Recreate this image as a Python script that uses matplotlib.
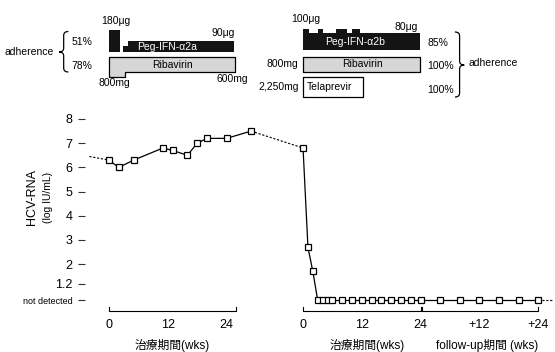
import numpy as np
import matplotlib
matplotlib.use("Agg")
import matplotlib.pyplot as plt
from matplotlib.path import Path
from matplotlib.patches import PathPatch

plt.rcParams['font.family'] = ['Liberation Sans', 'Noto Sans CJK JP', 'DejaVu Sans']

ND = 0.5  # "not detected" position on the y scale

# first course (Peg-IFN-a2a + ribavirin), weeks from start
t1_weeks = [0, 2, 5, 11, 13, 16, 18, 20, 24, 29]
t1_values = [6.3, 6.0, 6.3, 6.8, 6.7, 6.5, 7.0, 7.2, 7.2, 7.5]
t1_lead = (-4, 6.45)

# second course (Peg-IFN-a2b + ribavirin + telaprevir)
t2_weeks = [0, 1, 2, 3, 4, 5, 6, 8, 10, 12, 14, 16, 18, 20, 22, 24]
t2_values = [6.8, 2.7, 1.7] + [ND] * 13
fu_weeks = [4, 8, 12, 16, 20, 24]
fu_values = [ND] * 6
fu_tail = 27

t2_offset = 39.6  # where course 2 starts on the shared week axis

y_ticks = [8, 7, 6, 5, 4, 3, 2, 1.2, ND]
y_labels = ['8', '7', '6', '5', '4', '3', '2', '1.2', 'not detected']

# dosing schedules: (start week, end week, dose)
peg_a2a = [(0, 2.2, 180), (2.9, 3.9, 45), (3.9, 25.6, 90)]
riba_1 = [(0, 3.2, 800), (3.2, 25.8, 600)]
peg_a2b = [(0, 1.2, 100), (1.2, 3.1, 80), (3.1, 4.0, 100), (4.0, 6.8, 80),
           (6.8, 9.0, 100), (9.0, 10.0, 80), (10.0, 11.7, 100), (11.7, 23.8, 80)]
riba_2 = [(0, 23.8, 800)]
telaprevir = [(0, 12.2, 2250)]

W, H = 555, 352
fig = plt.figure(figsize=(W / 100, H / 100), dpi=100)

# pixel layout: x_pix = 109 + 4.9 * week, y_pix = 119 + 24.2 * (8 - v)
px_per_wk = 4.9
x0_pix = 109
left_pix, right_pix = 85, 555
xlim = ((left_pix - x0_pix) / px_per_wk, (right_pix - x0_pix) / px_per_wk)

top_pix, bot_pix = 100, 352
ylim = (8 - (bot_pix - 119) / 24.2, 8 - (top_pix - 119) / 24.2)

ax = fig.add_axes([left_pix / W, 1 - bot_pix / H, (right_pix - left_pix) / W, (bot_pix - top_pix) / H])
ax.set_xlim(*xlim)
ax.set_ylim(*ylim)
for s in ax.spines.values():
    s.set_visible(False)
ax.set_xticks([])
ax.set_yticks(y_ticks)
ax.set_yticklabels(y_labels)
ax.tick_params(axis='y', direction='out', length=5, width=0.8, color='#333333', pad=4, labelsize=9)
for lab in ax.get_yticklabels():
    if lab.get_text() == 'not detected':
        lab.set_fontsize(6.5)

mk = dict(marker='s', markersize=4.5, markerfacecolor='white', markeredgecolor='black',
          markeredgewidth=0.9, color='black', lw=0.9)
dash = dict(color='black', lw=0.8, linestyle=(0, (2, 1.5)))

x1 = np.array(t1_weeks, dtype=float)
x2 = np.array(t2_weeks, dtype=float) + t2_offset
xf = np.array(fu_weeks, dtype=float) + t2_offset + t2_weeks[-1]

ax.plot([t1_lead[0], x1[0]], [t1_lead[1], t1_values[0]], **dash)
ax.plot([x1[-1], x2[0]], [t1_values[-1], t2_values[0]], **dash)
ax.plot([xf[-1], t2_offset + t2_weeks[-1] + fu_tail], [fu_values[-1], fu_values[-1]], **dash)
ax.plot(x1, t1_values, **mk, zorder=3)
ax.plot(np.concatenate([x2, xf]), t2_values + fu_values, **mk, zorder=3)

# brackets under the curves
yb = 0.066
cap = 0.17


def bracket(a, b):
    ax.plot([a, a, b, b], [yb + cap, yb, yb, yb + cap], color='black', lw=0.8)


bracket(0, 26)
bracket(t2_offset, t2_offset + 24)
bracket(t2_offset + 24.3, t2_offset + 48)

ytl = -0.52
for w, lab in [(0, '0'), (12, '12'), (24, '24')]:
    ax.text(w, ytl, lab, ha='center', va='center', fontsize=9)
for w, lab in [(0, '0'), (12, '12'), (24, '24'), (36, '+12'), (48, '+24')]:
    ax.text(t2_offset + w, ytl, lab, ha='center', va='center', fontsize=9)

yxl = -1.35
ax.text(13, yxl, '治療期間(wks)', ha='center', va='center', fontsize=8.5)
ax.text(t2_offset + 13, yxl, '治療期間(wks)', ha='center', va='center', fontsize=8.5)
ax.text(t2_offset + 37.5, yxl, 'follow-up期間 (wks)', ha='center', va='center', fontsize=8.5)

fig.text(32 / W, 1 - 197 / H, 'HCV-RNA', rotation=90, ha='center', va='center', fontsize=9)
fig.text(48 / W, 1 - 197 / H, '(log IU/mL)', rotation=90, ha='center', va='center', fontsize=7.5)

# regimen schematic, y in pixels from the top
axt = fig.add_axes([left_pix / W, 1 - 100 / H, (right_pix - left_pix) / W, 100 / H])
axt.set_xlim(*xlim)
axt.set_ylim(100, 0)
axt.axis('off')

dark = '#141414'
gray = '#d6d6d6'


def peg_bars(segs, offset, base, scale):
    for a, b, d in segs:
        h = d * scale
        axt.bar(a + offset, h, width=b - a, bottom=base - h, align='edge', color=dark, lw=0)


def riba_box(segs, offset, top, scale, color):
    xs = [a + offset for a, b, d in segs] + [segs[-1][1] + offset]
    ys = [top + d * scale for a, b, d in segs] + [top + segs[-1][2] * scale]
    axt.fill_between(xs, top, ys, step='post', facecolor=color, edgecolor='black', lw=0.9)


peg_bars(peg_a2a, 0, 52, 0.125)
riba_box(riba_1, 0, 57.3, 0.024, gray)
peg_bars(peg_a2b, t2_offset, 49.5, 0.205)
riba_box(riba_2, t2_offset, 56.7, 0.01875, gray)
riba_box(telaprevir, t2_offset, 77, 0.0087, 'white')

fs = 7.5
axt.text(1.4, 21, '180μg', ha='center', va='center', fontsize=fs)
axt.text(23.3, 33, '90μg', ha='center', va='center', fontsize=fs)
axt.text(11.8, 46.5, 'Peg-IFN-α2a', ha='center', va='center', fontsize=fs, color='white')
axt.text(13, 65, 'Ribavirin', ha='center', va='center', fontsize=fs)
axt.text(1.0, 83, '800mg', ha='center', va='center', fontsize=fs)
axt.text(25.1, 79, '600mg', ha='center', va='center', fontsize=fs)
axt.text(-7.6, 42, '51%', ha='left', va='center', fontsize=fs)
axt.text(-7.6, 66, '78%', ha='left', va='center', fontsize=fs)
axt.text(-11.2, 52, 'adherence', ha='right', va='center', fontsize=fs)

axt.text(t2_offset + 0.6, 18.5, '100μg', ha='center', va='center', fontsize=fs)
axt.text(t2_offset + 21, 27, '80μg', ha='center', va='center', fontsize=fs)
axt.text(t2_offset + 10.6, 42, 'Peg-IFN-α2b', ha='center', va='center', fontsize=fs, color='white')
axt.text(t2_offset - 0.9, 64, '800mg', ha='right', va='center', fontsize=fs)
axt.text(t2_offset + 12.2, 64, 'Ribavirin', ha='center', va='center', fontsize=fs)
axt.text(t2_offset - 0.9, 87, '2,250mg', ha='right', va='center', fontsize=fs)
axt.text(t2_offset + 0.8, 87, 'Telaprevir', ha='left', va='center', fontsize=fs)
axt.text(t2_offset + 25.3, 43, '85%', ha='left', va='center', fontsize=fs)
axt.text(t2_offset + 25.3, 66, '100%', ha='left', va='center', fontsize=fs)
axt.text(t2_offset + 25.3, 90, '100%', ha='left', va='center', fontsize=fs)
axt.text(t2_offset + 33.8, 63, 'adherence', ha='left', va='center', fontsize=fs)


def brace(x, y0, y1, w, ym=None, q=4):
    if ym is None:
        ym = (y0 + y1) / 2
    m = x + w / 2
    verts = [(x, y0), (m, y0), (m, y0 + q), (m, ym - q), (m, ym), (x + w, ym),
             (m, ym), (m, ym + q), (m, y1 - q), (m, y1), (x, y1)]
    codes = [Path.MOVETO, Path.CURVE3, Path.CURVE3, Path.LINETO, Path.CURVE3, Path.CURVE3,
             Path.CURVE3, Path.CURVE3, Path.LINETO, Path.CURVE3, Path.CURVE3]
    axt.add_patch(PathPatch(Path(verts, codes), fill=False, lw=0.9, color='black', clip_on=False))


brace(-8.3, 31.5, 72, -1.9, ym=52)
brace(t2_offset + 31.0, 32, 97, 1.9, ym=65)

fig.savefig('out.png', dpi=100)
